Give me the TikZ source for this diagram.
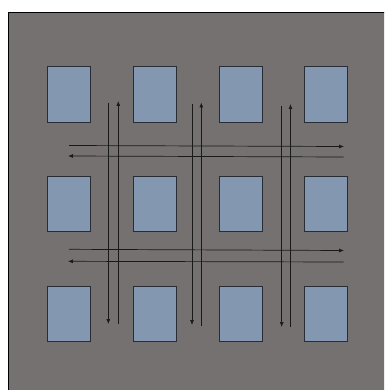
\documentclass[tikz,border=0pt]{standalone}
\usetikzlibrary{arrows.meta}
\definecolor{bggray}{RGB}{118,113,113}
\definecolor{boxblue}{RGB}{132,151,176}
\definecolor{boxedge}{RGB}{40,44,52}
\tikzset{
  cell/.style={draw=boxedge, line width=0.9pt, fill=boxblue, minimum width=43pt, minimum height=55.5pt, inner sep=0pt, outer sep=0pt},
  flow/.style={draw=black!90, line width=0.7pt},
  flowarrow/.style={flow, -{Latex[length=5pt,width=4pt]}}
}
\begin{document}
\begin{tikzpicture}[x=1pt,y=-1pt]
\useasboundingbox (0,0) rectangle (384,390);
\begin{scope}
\clip (0,0) rectangle (384,390);
\fill[white] (0,0) rectangle (384,390);
\draw[fill=bggray, draw=black, line width=1pt] (8.5,12.5) rectangle (390,396);
\end{scope}
% boxes
\foreach \r/\y in {1/94.5, 2/204, 3/314}{
  \foreach \c/\x in {1/68.5, 2/154.5, 3/240.5, 4/325.5}{
    \node[cell] (b\r\c) at (\x,\y) {};
  }
}
% vertical connectors
\coordinate (v1t) at (108.3,103);
\coordinate (v1b) at (108.3,324);
\coordinate (u1b) at (118.3,324);
\coordinate (u1t) at (118.3,101);
\coordinate (v2t) at (192,104);
\coordinate (v2b) at (192,325);
\coordinate (u2b) at (201.3,326);
\coordinate (u2t) at (201.3,102.5);
\coordinate (v3t) at (281.7,106.5);
\coordinate (v3b) at (281.7,327);
\coordinate (u3b) at (290.5,327);
\coordinate (u3t) at (290.5,104);
\draw[flowarrow] (v1t) -- (v1b);
\draw[flowarrow] (u1b) -- (u1t);
\draw[flowarrow] (v2t) -- (v2b);
\draw[flowarrow] (u2b) -- (u2t);
\draw[flowarrow] (v3t) -- (v3b);
\draw[flowarrow] (u3b) -- (u3t);
% horizontal connectors
\coordinate (h1l) at (69,145.5);
\coordinate (h1r) at (344,146.5);
\coordinate (k1r) at (343.5,157);
\coordinate (k1l) at (68,156);
\coordinate (h2l) at (69,249.3);
\coordinate (h2r) at (344,250.5);
\coordinate (k2r) at (343.5,262);
\coordinate (k2l) at (68,261.3);
\draw[flowarrow] (h1l) -- (h1r);
\draw[flowarrow] (k1r) -- (k1l);
\draw[flowarrow] (h2l) -- (h2r);
\draw[flowarrow] (k2r) -- (k2l);
\end{tikzpicture}
\end{document}
